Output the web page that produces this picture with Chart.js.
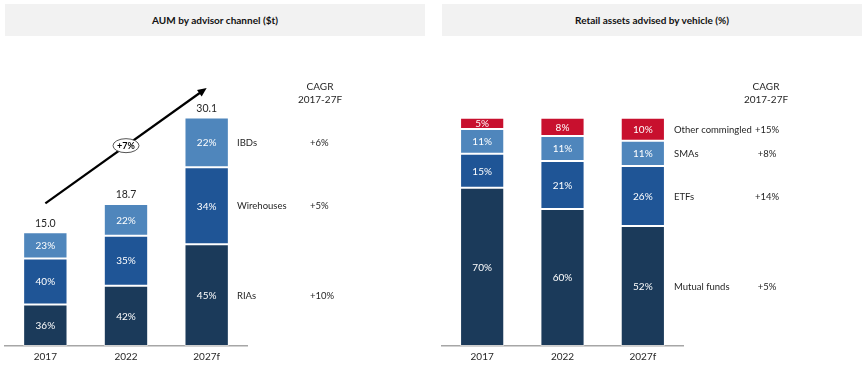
<!DOCTYPE html>
<html>
<head>
<meta charset="utf-8">
<script src="https://cdn.jsdelivr.net/npm/chart.js@4.4.1/dist/chart.umd.min.js"></script>
<style>
  body { margin: 0; background: #fff; width: 864px; height: 369px; position: relative; overflow: hidden; font-family: Lato, sans-serif; }
  .panel { position: absolute; top: 0; width: 432px; height: 369px; }
  .panel canvas { position: absolute; left: 0; top: 0; }
  .header {
    position: absolute; top: 4px; height: 32px; background: #f2f2f2;
    font-weight: bold; font-size: 10px; color: #111; line-height: 33px; text-align: center;
  }
</style>
</head>
<body>
<div class="panel" style="left:0">
  <div class="header" style="left:5px;width:420px">AUM by advisor channel ($t)</div>
  <canvas id="aum" width="432" height="369"></canvas>
</div>
<div class="panel" style="left:432px">
  <div class="header" style="left:10px;width:420px">Retail assets advised by vehicle (%)</div>
  <canvas id="vehicle" width="432" height="369"></canvas>
</div>
<script>
var years = ["2017", "2022", "2027f"];

// left chart: AUM totals ($t) and channel shares (%)
var aumTotals = [15.0, 18.7, 30.1];
var riaShare = [36, 42, 45];
var wirehouseShare = [40, 35, 34];
var ibdShare = [23, 22, 22];
var channelNames = ["RIAs", "Wirehouses", "IBDs"];
var channelCagr = ["+10%", "+5%", "+6%"];
var overallCagr = "+7%";

// right chart: vehicle shares (%)
var mutualFundShare = [70, 60, 52];
var etfShare = [15, 21, 26];
var smaShare = [11, 11, 11];
var otherShare = [5, 8, 10];
var vehicleNames = ["Mutual funds", "ETFs", "SMAs", "Other commingled"];
var vehicleCagr = ["+5%", "+14%", "+8%", "+15%"];

var navy = "#1b3a5a";
var midBlue = "#1f5596";
var lightBlue = "#4f86bc";
var red = "#c8102e";
var textColor = "#262626";
var fontFamily = "Lato, sans-serif";

function segmentValues(shareLists, totals) {
  // scale each share so the stack ends at the bar total
  return shareLists.map((list) =>
    list.map((v, i) => {
      var sum = shareLists.reduce((s, l) => s + l[i], 0);
      return (totals[i] * v) / sum;
    })
  );
}

function makeDatasets(shareLists, totals, colors) {
  var values = segmentValues(shareLists, totals);
  return values.map((vals, k) => ({
    data: vals,
    shares: shareLists[k],
    backgroundColor: colors[k],
    borderColor: "rgba(255,255,255,0.45)",
    borderWidth: 1,
    borderSkipped: false,
    barPercentage: 0.55,
    categoryPercentage: 1,
  }));
}

// white % labels inside each segment + names and CAGR next to last bar
function sideLabels(opts) {
  return {
    id: "sideLabels",
    afterDatasetsDraw(chart) {
      var ctx = chart.ctx;
      ctx.save();
      ctx.textBaseline = "middle";
      chart.data.datasets.forEach((ds, k) => {
        var meta = chart.getDatasetMeta(k);
        meta.data.forEach((bar, i) => {
          var mid = (bar.y + bar.base) / 2;
          ctx.fillStyle = "#fff";
          ctx.font = "10px " + fontFamily;
          ctx.textAlign = "center";
          ctx.fillText(ds.shares[i] + "%", bar.x, mid + 0.5);
          if (i === meta.data.length - 1) {
            ctx.fillStyle = textColor;
            ctx.font = "9.5px " + fontFamily;
            ctx.textAlign = "left";
            ctx.fillText(opts.names[k], opts.nameX, mid + 0.5);
            ctx.textAlign = opts.cagrAlign;
            ctx.fillText(opts.cagr[k], opts.cagrX, mid + 0.5);
          }
        });
      });
      ctx.fillStyle = textColor;
      ctx.textAlign = "center";
      ctx.font = "10px " + fontFamily;
      ctx.fillText("CAGR", opts.headX, 87);
      ctx.fillText("2017-27F", opts.headX, 100);
      ctx.restore();
    },
  };
}

var totalsAndArrow = {
  id: "totalsAndArrow",
  afterDatasetsDraw(chart) {
    var ctx = chart.ctx;
    var x = chart.scales.x;
    var y = chart.scales.y;
    ctx.save();
    ctx.fillStyle = textColor;
    ctx.font = "10.5px " + fontFamily;
    ctx.textAlign = "center";
    ctx.textBaseline = "middle";
    aumTotals.forEach((t, i) => {
      ctx.fillText(t.toFixed(1), x.getPixelForValue(i), y.getPixelForValue(t) - 9);
    });

    // growth arrow
    var x0 = x.getPixelForValue(0), y0 = y.getPixelForValue(18.8);
    var x1 = x.getPixelForValue(2), y1 = y.getPixelForValue(34);
    var ang = Math.atan2(y1 - y0, x1 - x0);
    ctx.strokeStyle = "#000";
    ctx.lineWidth = 2.2;
    ctx.beginPath();
    ctx.moveTo(x0, y0);
    ctx.lineTo(x1 - 6 * Math.cos(ang), y1 - 6 * Math.sin(ang));
    ctx.stroke();
    ctx.fillStyle = "#000";
    ctx.beginPath();
    ctx.moveTo(x1, y1);
    ctx.lineTo(x1 - 9 * Math.cos(ang) + 4 * Math.sin(ang), y1 - 9 * Math.sin(ang) - 4 * Math.cos(ang));
    ctx.lineTo(x1 - 9 * Math.cos(ang) - 4 * Math.sin(ang), y1 - 9 * Math.sin(ang) + 4 * Math.cos(ang));
    ctx.closePath();
    ctx.fill();

    // +7% bubble
    var cx = x.getPixelForValue(1), cy = y0 + ((cx - x0) / (x1 - x0)) * (y1 - y0);
    ctx.beginPath();
    ctx.ellipse(cx, cy, 13, 7, 0, 0, Math.PI * 2);
    ctx.fillStyle = "#fff";
    ctx.fill();
    ctx.strokeStyle = "#555";
    ctx.lineWidth = 1;
    ctx.stroke();
    ctx.fillStyle = "#000";
    ctx.font = "bold 9px " + fontFamily;
    ctx.fillText(overallCagr, cx, cy + 0.5);
    ctx.restore();
  },
};

function baseOptions(yMax, padLeft, padRight) {
  return {
    responsive: false,
    animation: false,
    layout: { padding: { top: 88, bottom: 1, left: padLeft, right: padRight } },
    plugins: { legend: { display: false }, tooltip: { enabled: false } },
    scales: {
      x: {
        stacked: true,
        grid: { display: false, drawTicks: false },
        border: { display: true, color: "#a6a6a6", width: 1.5 },
        ticks: { color: textColor, padding: 5, font: { family: fontFamily, size: 10 } },
      },
      y: { stacked: true, display: false, min: 0, max: yMax },
    },
  };
}

new Chart(document.getElementById("aum"), {
  type: "bar",
  data: {
    labels: years,
    datasets: makeDatasets([riaShare, wirehouseShare, ibdShare], aumTotals, [navy, midBlue, lightBlue]),
  },
  options: baseOptions(34, 5, 185),
  plugins: [
    sideLabels({ names: channelNames, cagr: channelCagr, nameX: 237, cagrX: 310, cagrAlign: "left", headX: 320 }),
    totalsAndArrow,
  ],
});

new Chart(document.getElementById("vehicle"), {
  type: "bar",
  data: {
    labels: years,
    datasets: makeDatasets([mutualFundShare, etfShare, smaShare, otherShare], [100, 100, 100], [navy, midBlue, lightBlue, red]),
  },
  options: baseOptions(113, 10, 181),
  plugins: [
    sideLabels({ names: vehicleNames, cagr: vehicleCagr, nameX: 242, cagrX: 335, cagrAlign: "center", headX: 334 }),
  ],
});
</script>
</body>
</html>
